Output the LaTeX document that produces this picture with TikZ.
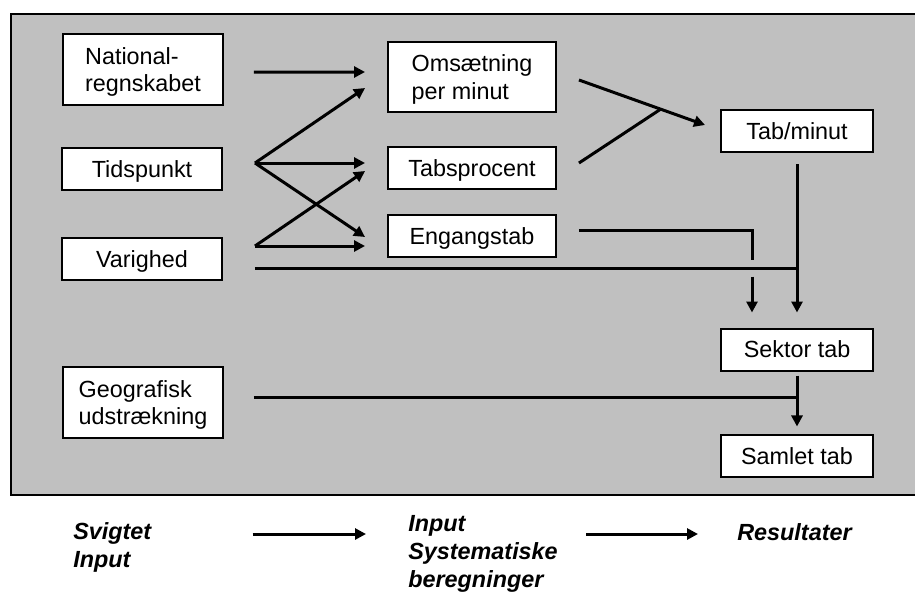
\documentclass[tikz,border=0pt]{standalone}
\usepackage{fontspec}
\setmainfont{Liberation Sans}
\usepackage{xcolor}
\usepackage{tikz}
\usetikzlibrary{arrows.meta,positioning,calc}
\definecolor{panel}{RGB}{192,192,192}

\begin{document}
\begin{tikzpicture}[x=0.02cm, y=-0.02cm,
        box/.style={rectangle, draw, line width=0.04cm, fill=white, align=left, inner sep=0pt, minimum height=0.84cm, text depth=0pt, font=\fontsize{13.3}{15.9}\selectfont},
        legend/.style={anchor=north west, align=left, inner sep=0pt, font=\fontsize{13.3}{15.9}\selectfont\bfseries\itshape},
        wire/.style={line width=0.06cm},
        arr/.style={wire, -{Triangle[length=0.22cm, width=0.22cm]}}]
        \useasboundingbox (0,0) rectangle (915,592);
        \draw[line width=0.05cm, fill=panel] (11,14) rectangle (930,495);

        \node[box, minimum width=3.2cm, minimum height=1.42cm] (nat) at (143,69.5) {National-\\regnskabet};
        \node[box, minimum width=3.2cm] (tid) at (142,169) {Tidspunkt};
        \node[box, minimum width=3.2cm] (var) at (142,259) {Varighed};
        \node[box, minimum width=3.2cm, minimum height=1.42cm] (geo) at (143,402.5) {Geografisk\\udstrækning};
        \node[box, minimum width=3.36cm, minimum height=1.4cm] (oms) at (472,77) {Omsætning\\per minut};
        \node[box, minimum width=3.36cm] (tabp) at (472,168) {Tabsprocent};
        \node[box, minimum width=3.36cm] (eng) at (472,236) {Engangstab};
        \node[box, minimum width=3.04cm] (tabm) at (797,131) {Tab/minut};
        \node[box, minimum width=3.04cm] (sek) at (797,349.5) {Sektor tab};
        \node[box, minimum width=3.04cm, below=1.26cm of sek] (sam) {Samlet tab};

        \coordinate (tidout) at ($(tid.east)+(32,-6)$);
        \coordinate (varout) at ($(var.east)+(32,-13)$);
        \coordinate (varline) at ($(var.east)+(32,9)$);
        \coordinate (geoline) at ($(geo.east)+(30,-5.5)$);

        \draw[arr] ($(nat.east)+(30,2.5)$) -- ($(oms.west)+(-22,-5)$);
        \draw[arr] (tidout) -- ($(oms.west)+(-22,11)$);
        \draw[arr] (tidout) -- ($(tabp.west)+(-22,-5)$);
        \draw[arr] (tidout) -- ($(eng.west)+(-22,1)$);
        \draw[arr] (varout) -- ($(tabp.west)+(-22,3)$);
        \draw[arr] (varout) -- ($(eng.west)+(-22,10)$);
        \draw[arr] ($(oms.east)+(22,3)$) -- ($(tabm.west)+(-15,-6)$) coordinate[pos=0.648] (join);
        \draw[wire] ($(tabp.east)+(22,-5)$) -- (join);
        \draw[wire] (varline) -- (varline -| tabm.south);
        \draw[wire] ($(eng.east)+(22,-6)$) -| ($(sek.north)+(-45,-68)$);
        \draw[arr] ($(sek.north)+(-45,-51)$) -- ($(sek.north)+(-45,-15)$);
        \draw[arr] ($(tabm.south)+(0,11)$) -- ($(sek.north)+(0,-15)$);
        \draw[wire] (geoline) -- (geoline -| sam.north);
        \draw[arr] ($(sek.south)+(0,4)$) -- ($(sam.north)+(0,-8)$);

        \node[legend] (svig) at (73,522) {Svigtet\\Input};
        \node[legend] (inp) at (408,515) {Input\\Systematiske\\beregninger};
        \node[legend] (res) at (737,523) {Resultater};
        \draw[arr] ($(svig.north east)+(101,12)$) -- ($(inp.north west)+(-42,19)$);
        \draw[arr] ($(inp.north east)+(28,19)$) -- ($(res.north west)+(-39,11)$);
    \end{tikzpicture}
\end{document}
